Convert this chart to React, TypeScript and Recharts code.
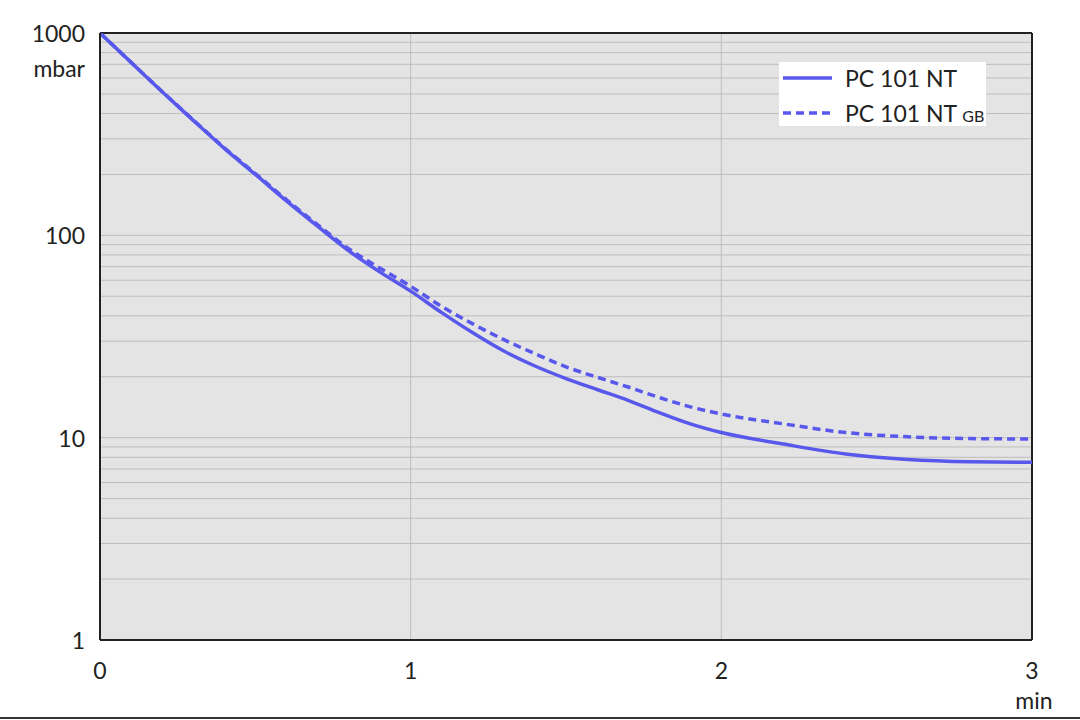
import React from 'react'
import { LineChart, Line, XAxis, YAxis, CartesianGrid, ReferenceLine } from 'recharts'

// time in min
const times = [0, 0.1, 0.2, 0.3, 0.4, 0.5, 0.6, 0.7, 0.8, 0.9, 1.0, 1.1, 1.2, 1.3, 1.4, 1.5, 1.6, 1.7, 1.8, 1.9, 2.0, 2.2, 2.4, 2.6, 2.8, 3.0]
// pressure in mbar
const pc101nt = [1000, 716, 513, 370, 269, 200, 148, 111, 84, 66, 53, 41.5, 33, 26.8, 22.6, 19.6, 17.3, 15.3, 13.3, 11.7, 10.6, 9.3, 8.3, 7.8, 7.6, 7.55]
const pc101ntGb = [1000, 716, 514, 372, 271, 202, 150, 113, 86, 69, 56, 44.5, 36.5, 30.5, 26, 22.4, 19.9, 17.8, 15.8, 14.2, 13.1, 11.7, 10.6, 10.1, 9.9, 9.85]

const xTicks = [0, 1, 2, 3]
const yTicks = [1, 10, 100, 1000]
const gridY = [2, 3, 4, 5, 6, 7, 8, 9, 10, 20, 30, 40, 50, 60, 70, 80, 90, 100, 200, 300, 400, 500, 600, 700, 800, 900]
const gridX = [1, 2]

const data = times.map((t, i) => ({ t, a: pc101nt[i], b: pc101ntGb[i] }))

const FONT = 'Lato, "DejaVu Sans", sans-serif'
const BLUE = '#5858ec'

const YTick = (props: any) => {
  const { x, y, payload } = props
  return (
    <g>
      <text x={x} y={y} textAnchor="end" dominantBaseline="central" fontSize={23} fill="#222" fontFamily={FONT}>
        {payload.value}
      </text>
      {payload.value === 1000 && (
        <text x={x} y={y + 35} textAnchor="end" dominantBaseline="central" fontSize={23} fill="#222" fontFamily={FONT}>
          mbar
        </text>
      )}
    </g>
  )
}

const XTick = (props: any) => {
  const { x, y, payload } = props
  return (
    <g>
      <text x={x} y={y} textAnchor="middle" dominantBaseline="central" fontSize={23} fill="#222" fontFamily={FONT}>
        {payload.value}
      </text>
      {payload.value === 3 && (
        <text x={x + 2} y={y + 30} textAnchor="middle" dominantBaseline="central" fontSize={23} fill="#222" fontFamily={FONT}>
          min
        </text>
      )}
    </g>
  )
}

const LegendBox = () => (
  <div style={{ position: 'absolute', left: 779, top: 62, background: '#fff', width: 207, height: 64, fontFamily: FONT, fontSize: 23, color: '#222' }}>
    <svg width={60} height={64} style={{ position: 'absolute', left: 0, top: 0 }}>
      <line x1={4} x2={53} y1={16} y2={16} stroke={BLUE} strokeWidth={3.5} />
      <line x1={4} x2={53} y1={51} y2={51} stroke={BLUE} strokeWidth={3.5} strokeDasharray="8 5" />
    </svg>
    <div style={{ position: 'absolute', left: 66, top: 2, lineHeight: '28px' }}>PC 101 NT</div>
    <div style={{ position: 'absolute', left: 66, top: 37, lineHeight: '28px' }}>
      PC 101 NT <span style={{ fontSize: 16 }}>GB</span>
    </div>
  </div>
)

export default function App() {
  return (
    <div style={{ position: 'absolute', left: 0, top: 0, width: 1080, height: 720, background: '#fff' }}>
      <LineChart width={1080} height={720} data={data} margin={{ top: 33, right: 48, bottom: 0, left: 0 }}>
        <CartesianGrid horizontal={false} vertical={false} fill="#e4e4e4" />
        {gridY.map((v) => (
          <ReferenceLine key={'gy' + v} y={v} stroke="#bdbdbd" strokeWidth={1} />
        ))}
        {gridX.map((v) => (
          <ReferenceLine key={'gx' + v} x={v} stroke="#bdbdbd" strokeWidth={1} />
        ))}
        <ReferenceLine y={1000} stroke="#222" strokeWidth={2} />
        <ReferenceLine x={3} stroke="#222" strokeWidth={2} />
        <XAxis
          dataKey="t"
          type="number"
          domain={[0, 3]}
          ticks={xTicks}
          height={80}
          tickSize={0}
          tickMargin={30}
          axisLine={{ stroke: '#222', strokeWidth: 2 }}
          tick={<XTick />}
          interval={0}
        />
        <YAxis
          scale="log"
          domain={[1, 1000]}
          ticks={yTicks}
          allowDataOverflow
          width={100}
          tickSize={0}
          tickMargin={15}
          axisLine={{ stroke: '#222', strokeWidth: 2 }}
          tick={<YTick />}
          interval={0}
        />
        <Line type="monotone" dataKey="a" stroke={BLUE} strokeWidth={3.5} dot={false} isAnimationActive={false} />
        <Line type="monotone" dataKey="b" stroke={BLUE} strokeWidth={3.5} strokeDasharray="8 5" dot={false} isAnimationActive={false} />
      </LineChart>
      <LegendBox />
      <div style={{ position: 'absolute', left: 0, top: 717, width: 1080, height: 2, background: '#333' }} />
    </div>
  )
}
